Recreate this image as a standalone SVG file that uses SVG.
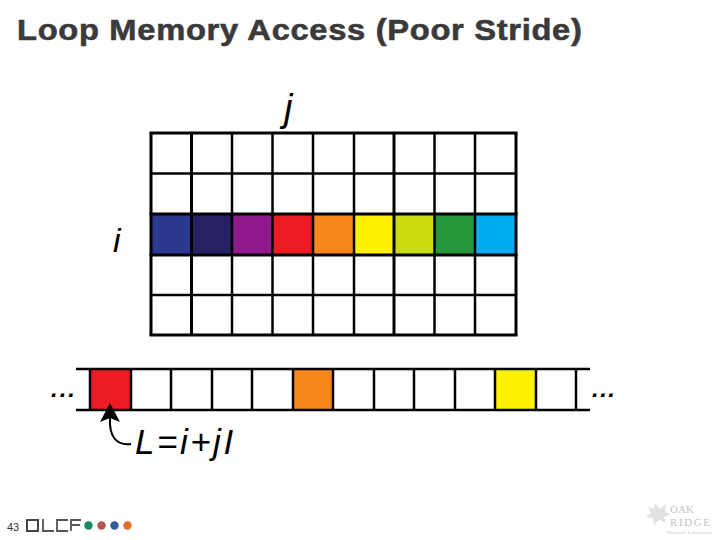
<svg xmlns="http://www.w3.org/2000/svg" width="720" height="540" viewBox="0 0 720 540">
<style>
.ln{stroke:#000;fill:none;stroke-width:2.5}
.ln2{stroke:#000;fill:none;stroke-width:3}
.it{font-family:"Liberation Sans",Arial,sans-serif;font-style:italic;fill:#000}
.logo{font-family:"Liberation Serif",serif;fill:#c4c4c4}
</style>
<rect width="720" height="540" fill="#fff"/>
<text id="title" transform="translate(17 40) scale(1.09 1)" x="0" y="0" style="font-family:'Liberation Sans',Arial,sans-serif;font-weight:700;font-size:30px;letter-spacing:.63px;fill:#3a3a3a;stroke:#3a3a3a;stroke-width:.6">Loop Memory Access (Poor Stride)</text>
<g id="grid-cells">
<rect x="151" y="214" width="41" height="41" fill="#2b3990"/>
<rect x="192" y="214" width="40" height="41" fill="#262262"/>
<rect x="232" y="214" width="41" height="41" fill="#8e1a8e"/>
<rect x="273" y="214" width="40" height="41" fill="#ed1c24"/>
<rect x="313" y="214" width="41" height="41" fill="#f7871a"/>
<rect x="354" y="214" width="40" height="41" fill="#fff200"/>
<rect x="394" y="214" width="41" height="41" fill="#cbdb12"/>
<rect x="435" y="214" width="40" height="41" fill="#25963c"/>
<rect x="475" y="214" width="41" height="41" fill="#00aeef"/>
</g>
<g id="grid-lines">
<path class="ln" d="M151 173.500H516M151 295H516"/>
<path class="ln2" d="M149.500 133H517.500M149.500 214H517.500M149.500 255H517.500M149.500 335H517.500"/>
<path class="ln2" d="M151 133V335M516 133V335"/>
<path class="ln" d="M232 133V335M272.500 133V335M313 133V335M354 133V335M434.500 133V335M475 133V335"/>
<path class="ln2" d="M191.500 133V335M394 133V335"/>
</g>
<g id="strip">
<rect x="90" y="369" width="41" height="41" fill="#ed1c24"/>
<rect x="293" y="369" width="40" height="41" fill="#f7871a"/>
<rect x="495" y="369" width="41" height="41" fill="#fff200"/>
<path class="ln" d="M76 369H590M76 410H590"/>
<path class="ln" d="M90 369V410M131 369V410M171 369V410M212 369V410M252 369V410M293 369V410M333 369V410M374 369V410M414 369V410M455 369V410M495 369V410M536 369V410M576 369V410"/>
</g>
<g id="connectors">
<path d="M131 444C116 446 109 436 110 418" fill="none" stroke="#000" stroke-width="2"/>
<path d="M110 403L120 422L110 418L100 422Z" fill="#000"/>
</g>
<g id="labels">
<text class="it" x="284" y="121" font-size="38">j</text>
<text class="it" x="113" y="252" font-size="34">i</text>
<text class="it" x="51" y="397" font-size="24" font-weight="700" letter-spacing="2">...</text>
<text class="it" x="592" y="397" font-size="24" font-weight="700" letter-spacing="1.500">...</text>
<text class="it" x="135" y="454" font-size="35" letter-spacing="2.500">L=i+jI</text>
</g>
<g id="footer">
<text x="7" y="531" style="font-family:'Liberation Sans',Arial,sans-serif;font-size:11px;fill:#333">43</text>
<rect x="27" y="520" width="11" height="11" fill="none" stroke="#444" stroke-width="2"/>
<path d="M43 519V531H54M68 520H57V531H68M71 531V520H81M71 525H80" fill="none" stroke="#555" stroke-width="1.800"/>
<circle cx="88.500" cy="525.500" r="4.200" fill="#138a62"/>
<circle cx="101.500" cy="525.500" r="4.200" fill="#b85450"/>
<circle cx="114.500" cy="525.500" r="4.200" fill="#2f5b96"/>
<circle cx="127.500" cy="525.500" r="4.200" fill="#e0702a"/>
</g>
<g id="ornl-logo">
<path d="M655 503l5 6 6-5-1 8 6 2-7 3 2 6-7-3-5 5-1-7-7-1 5-4-3-6 6 2z" fill="#e2e2e2"/>
<text class="logo" x="670" y="513" font-size="11" textLength="24">OAK</text>
<text class="logo" x="670" y="525.500" font-size="11" textLength="40">RIDGE</text>
<text class="logo" x="667" y="534" font-size="5" textLength="45">National Laboratory</text>
</g>
</svg>
